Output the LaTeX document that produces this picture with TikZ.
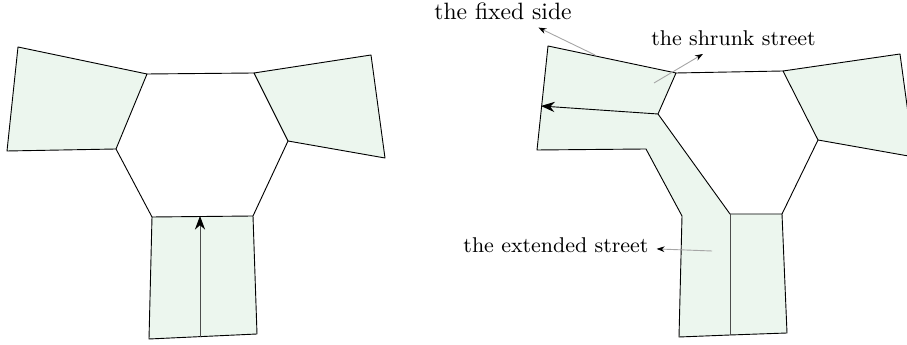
\documentclass[tikz,border=0pt]{standalone}
\usetikzlibrary{arrows.meta}
\definecolor{streetgreen}{RGB}{236,246,238}
\begin{document}
\begin{tikzpicture}[x=0.44pt, y=-0.44pt,
    street/.style={fill=streetgreen, draw=black, line join=round},
    move/.style={-{Stealth[length=6pt, width=4.5pt, black]}},
    note/.style={draw=gray!70, -{Stealth[length=3.5pt, width=2.5pt, black]}},
    lbl/.style={anchor=base, font=\fontsize{9.4}{11}\selectfont},
  ]
  \useasboundingbox (0,0) rectangle (907,345);

  % before: the hexagon and its three streets
  \coordinate (h1) at (147,74);
  \coordinate (h2) at (254,73);
  \coordinate (h3) at (288,141);
  \coordinate (h4) at (253,216);
  \coordinate (h5) at (152,217);
  \coordinate (h6) at (116,149);
  \coordinate (q1) at (18,47);
  \coordinate (q2) at (7,151);
  \coordinate (r1) at (371,55);
  \coordinate (r2) at (385,158);
  \coordinate (b1) at (257,334);
  \coordinate (b2) at (149,339);
  \coordinate (m1) at (200,337);
  \coordinate (m2) at (200,216);

  \draw[street] (q1) -- (h1) -- (h6) -- (q2) -- cycle;
  \draw[street] (h2) -- (r1) -- (r2) -- (h3) -- cycle;
  \draw[street] (h5) -- (h4) -- (b1) -- (b2) -- cycle;
  \draw (h1) -- (h2) (h3) -- (h4) (h5) -- (h6);
  \draw[move, draw=black!70] (m1) -- (m2);

  % after: one street shrunk, one extended
  \coordinate (s1) at (676,73);
  \coordinate (s2) at (783,71);
  \coordinate (s3) at (818,140);
  \coordinate (s4) at (782,214);
  \coordinate (s5) at (730,214);
  \coordinate (s6) at (658,114);
  \coordinate (t1) at (548,46);
  \coordinate (t2) at (537,150);
  \coordinate (t3) at (646,149);
  \coordinate (t4) at (682,216);
  \coordinate (t5) at (679,337);
  \coordinate (t6) at (730,335);
  \coordinate (t7) at (787,333);
  \coordinate (u1) at (900,54);
  \coordinate (u2) at (914,157);
  \coordinate (a1) at (541,106);

  \draw[street] (t1) -- (s1) -- (s6) -- (s5) -- (s4) -- (t7) -- (t6) -- (t5)
    -- (t4) -- (t3) -- (t2) -- cycle;
  \draw[street] (s2) -- (u1) -- (u2) -- (s3) -- cycle;
  \draw (s1) -- (s2) (s3) -- (s4);
  \draw[black!70] (s5) -- (t6);
  \draw[move] (s6) -- (a1);

  % labels
  \coordinate (fx) at (595,55);
  \coordinate (sh) at (654,83);
  \coordinate (ex) at (712,251);
  \node[lbl, font=\fontsize{10.4}{12}\selectfont] (fixed) at (503,19.3) {the fixed side};
  \node[lbl] (shrunk) at (733.5,45.7) {the shrunk street};
  \node[lbl] (extended) at (556,252.7) {the extended street};

  \draw[note] (fx) -- (fixed.-25);
  \draw[note] (sh) -- (shrunk.-153);
  \draw[note] (ex) -- (extended.-2);
\end{tikzpicture}
\end{document}
